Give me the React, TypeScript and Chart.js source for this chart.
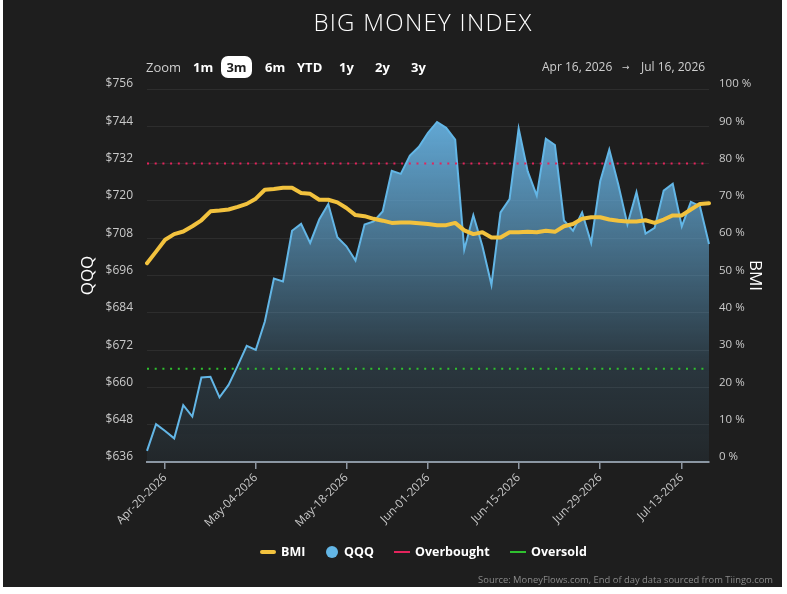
import React, { useEffect, useRef } from "react";
import { Chart, registerables } from "chart.js";

Chart.register(...registerables);

// Trading days shown on the category axis
const tradingDays = [
  "Apr-16-2026", "Apr-17-2026", "Apr-20-2026", "Apr-21-2026", "Apr-22-2026", "Apr-23-2026", "Apr-24-2026",
  "Apr-27-2026", "Apr-28-2026", "Apr-29-2026", "Apr-30-2026", "May-01-2026",
  "May-04-2026", "May-05-2026", "May-06-2026", "May-07-2026", "May-08-2026",
  "May-11-2026", "May-12-2026", "May-13-2026", "May-14-2026", "May-15-2026",
  "May-18-2026", "May-19-2026", "May-20-2026", "May-21-2026", "May-22-2026",
  "May-26-2026", "May-27-2026", "May-28-2026", "May-29-2026",
  "Jun-01-2026", "Jun-02-2026", "Jun-03-2026", "Jun-04-2026", "Jun-05-2026",
  "Jun-08-2026", "Jun-09-2026", "Jun-10-2026", "Jun-11-2026", "Jun-12-2026",
  "Jun-15-2026", "Jun-16-2026", "Jun-17-2026", "Jun-18-2026",
  "Jun-22-2026", "Jun-23-2026", "Jun-24-2026", "Jun-25-2026", "Jun-26-2026",
  "Jun-29-2026", "Jun-30-2026", "Jul-01-2026", "Jul-02-2026",
  "Jul-06-2026", "Jul-07-2026", "Jul-08-2026", "Jul-09-2026", "Jul-10-2026",
  "Jul-13-2026", "Jul-14-2026", "Jul-15-2026", "Jul-16-2026",
];

// QQQ daily close ($)
const qqqClose = [
  639.6, 648.2, 646.0, 643.6, 654.3, 650.6, 663.2, 663.4, 656.8, 660.8,
  666.9, 673.4, 672.1, 681.2, 695.0, 694.1, 710.4, 712.6, 706.5, 714.0,
  719.0, 708.3, 705.4, 700.8, 712.4, 713.4, 716.6, 729.7, 728.7, 734.6,
  737.4, 741.9, 745.4, 743.5, 739.7, 704.3, 715.4, 705.5, 693.0, 716.3,
  720.6, 743.3, 729.5, 721.7, 740.0, 738.0, 713.7, 710.4, 716.3, 706.5,
  726.3, 736.5, 725.2, 712.4, 722.8, 709.5, 711.3, 723.3, 725.5, 711.8,
  719.7, 718.3, 706.1,
];

// Big Money Index (%)
const bmiPct = [
  53.3, 56.4, 59.6, 61.1, 61.8, 63.2, 64.8, 67.2, 67.4, 67.7,
  68.4, 69.2, 70.6, 73.0, 73.2, 73.5, 73.5, 72.1, 71.9, 70.3,
  70.3, 69.6, 68.1, 66.2, 65.9, 65.2, 64.7, 64.1, 64.2, 64.2,
  64.0, 63.8, 63.5, 63.5, 64.1, 62.1, 61.1, 61.6, 60.2, 60.2,
  61.6, 61.6, 61.7, 61.6, 62.0, 61.7, 63.2, 63.8, 65.2, 65.6,
  65.6, 65.0, 64.7, 64.5, 64.5, 64.8, 64.1, 65.0, 66.1, 66.1,
  67.7, 69.2, 69.4,
];

const overboughtLevel = 80;
const oversoldLevel = 25;

const labelledDays = [
  "Apr-20-2026", "May-04-2026", "May-18-2026", "Jun-01-2026",
  "Jun-15-2026", "Jun-29-2026", "Jul-13-2026",
];

const priceMin = 636;
const priceMax = 756;
const priceStep = 12;
const pctMin = 0;
const pctMax = 100;
const pctStep = 10;

const zoomButtons = ["1m", "3m", "6m", "YTD", "1y", "2y", "3y"];
const rangeFrom = "Apr 16, 2026";
const rangeTo = "Jul 16, 2026";

const FONT = '"Open Sans", "DejaVu Sans", sans-serif';
const BMI_COLOR = "#f2c23e";
const QQQ_COLOR = "#63b6e6";
const OB_COLOR = "#e3245c";
const OS_COLOR = "#2fc02f";
const TICK_COLOR = "#cacaca";

function qqqFill(ctx: any) {
  const chart = ctx.chart;
  const area = chart.chartArea;
  if (!area) return "rgba(99,170,215,0.4)";
  const g = chart.ctx.createLinearGradient(0, area.top, 0, area.bottom);
  g.addColorStop(0, "rgba(100,172,218,1)");
  g.addColorStop(0.12, "rgba(100,172,218,0.93)");
  g.addColorStop(0.5, "rgba(100,172,218,0.47)");
  g.addColorStop(0.75, "rgba(100,172,218,0.17)");
  g.addColorStop(1, "rgba(100,172,218,0.07)");
  return g;
}

const zoomX: Record<string, number> = { "1m": 193, "3m": 226, "6m": 265, YTD: 297, "1y": 339, "2y": 375, "3y": 411 };

export default function App() {
  const canvasRef = useRef<HTMLCanvasElement>(null);

  useEffect(() => {
    const canvas = canvasRef.current;
    if (!canvas) return;
    const chart = new Chart(canvas, {
      type: "line",
      data: {
        labels: tradingDays,
        datasets: [
          {
            label: "BMI",
            data: bmiPct,
            yAxisID: "yBmi",
            borderColor: BMI_COLOR,
            borderWidth: 4,
            pointRadius: 0,
            tension: 0,
            borderJoinStyle: "round",
            borderCapStyle: "round",
            fill: false,
            order: 1,
          },
          {
            label: "Overbought",
            data: tradingDays.map(() => overboughtLevel),
            yAxisID: "yBmi",
            borderColor: OB_COLOR,
            borderWidth: 2,
            borderDash: [2, 5.7],
            pointRadius: 0,
            fill: false,
            order: 2,
          },
          {
            label: "Oversold",
            data: tradingDays.map(() => oversoldLevel),
            yAxisID: "yBmi",
            borderColor: OS_COLOR,
            borderWidth: 2,
            borderDash: [2, 5.7],
            pointRadius: 0,
            fill: false,
            order: 2,
          },
          {
            label: "QQQ",
            data: qqqClose,
            yAxisID: "yPrice",
            borderColor: QQQ_COLOR,
            borderWidth: 2,
            pointRadius: 0,
            tension: 0,
            fill: "start",
            backgroundColor: qqqFill,
            order: 3,
          },
        ],
      },
      options: {
        responsive: false,
        devicePixelRatio: 1,
        animation: false,
        layout: { padding: { top: 89, left: 0, right: 0, bottom: 0 } },
        plugins: {
          legend: { display: false },
          tooltip: { enabled: false },
          title: { display: false },
        },
        scales: {
          x: {
            type: "category",
            offset: false,
            grid: {
              display: true,
              drawOnChartArea: false,
              drawTicks: true,
              tickLength: 7,
              color: "#8d96a1",
              lineWidth: 1.5,
            },
            border: { display: true, color: "#8d96a1", width: 2 },
            ticks: {
              autoSkip: false,
              minRotation: 45,
              maxRotation: 45,
              padding: 2,
              color: TICK_COLOR,
              font: { family: FONT, size: 11.5 },
            },
            afterBuildTicks: (scale: any) => {
              scale.ticks = labelledDays.map((d) => ({ value: tradingDays.indexOf(d) }));
            },
            afterFit: (scale: any) => {
              scale.height = 132;
            },
          },
          yPrice: {
            type: "linear",
            position: "left",
            min: priceMin,
            max: priceMax,
            grid: { color: "#2d2d2d", lineWidth: 1, drawTicks: false },
            border: { display: false },
            ticks: {
              stepSize: priceStep,
              padding: 14,
              labelOffset: -5,
              color: TICK_COLOR,
              font: { family: FONT, size: 12 },
              callback: (v: any) => "$" + v,
            },
            title: {
              display: true,
              text: "QQQ",
              color: "#ffffff",
              font: { family: FONT, size: 17 },
              padding: { top: 78, bottom: 0 },
            },
            afterFit: (scale: any) => {
              scale.width = 147;
            },
          },
          yBmi: {
            type: "linear",
            position: "right",
            min: pctMin,
            max: pctMax,
            grid: { display: false },
            border: { display: false },
            ticks: {
              stepSize: pctStep,
              padding: 2,
              labelOffset: -5,
              color: TICK_COLOR,
              font: { family: FONT, size: 11.5 },
              callback: (v: any) => v + " %",
            },
            title: {
              display: true,
              text: "BMI",
              color: "#ffffff",
              font: { family: FONT, size: 17 },
              padding: { top: 22, bottom: 0 },
            },
            afterFit: (scale: any) => {
              scale.width = 78;
            },
          },
        },
      },
    } as any);
    return () => chart.destroy();
  }, []);

  const txt = (extra: React.CSSProperties): React.CSSProperties => ({
    position: "absolute",
    fontFamily: FONT,
    whiteSpace: "nowrap",
    ...extra,
  });

  return (
    <div style={{ position: "absolute", left: 0, top: 0, width: 787, height: 594, background: "#ffffff", overflow: "hidden" }}>
      <div style={{ position: "absolute", left: 3, top: 0, width: 779, height: 587, background: "#1e1e1e" }} />
      <canvas ref={canvasRef} width={787} height={594} style={{ position: "absolute", left: 0, top: 0, width: 787, height: 594 }} />

      <div style={txt({ left: 423, top: 6, height: 32, lineHeight: "32px", transform: "translateX(-50%)", color: "#ffffff", fontSize: 24, fontWeight: 300, letterSpacing: 1.3 })}>
        BIG MONEY INDEX
      </div>

      <div style={txt({ left: 146, top: 57, lineHeight: "20px", color: "#cfcfcf", fontSize: 13 })}>Zoom</div>
      <div style={{ position: "absolute", left: 221, top: 56, width: 31, height: 22, borderRadius: 7, background: "#ffffff" }} />
      {zoomButtons.map((b) => (
        <div
          key={b}
          style={txt({
            left: b === "3m" ? 221 : zoomX[b],
            width: b === "3m" ? 31 : undefined,
            textAlign: b === "3m" ? "center" : undefined,
            top: 57,
            lineHeight: "20px",
            color: b === "3m" ? "#1e1e1e" : "#ffffff",
            fontSize: 13,
            fontWeight: 700,
          })}
        >
          {b}
        </div>
      ))}
      <div style={txt({ left: 542, top: 57, lineHeight: "20px", color: "#cfcfcf", fontSize: 12 })}>{rangeFrom}</div>
      <div style={txt({ left: 622, top: 57, lineHeight: "20px", color: "#cfcfcf", fontSize: 9 })}>→</div>
      <div style={txt({ left: 641, top: 57, lineHeight: "20px", color: "#cfcfcf", fontSize: 12 })}>{rangeTo}</div>

      {/* legend */}
      <div style={{ position: "absolute", left: 260, top: 550, width: 16, height: 4, borderRadius: 2, background: BMI_COLOR }} />
      <div style={txt({ left: 281, top: 542, lineHeight: "20px", color: "#ffffff", fontSize: 12.5, fontWeight: 700 })}>BMI</div>
      <div style={{ position: "absolute", left: 326, top: 546, width: 12, height: 12, borderRadius: 6, background: QQQ_COLOR }} />
      <div style={txt({ left: 344, top: 542, lineHeight: "20px", color: "#ffffff", fontSize: 12.5, fontWeight: 700 })}>QQQ</div>
      <div style={{ position: "absolute", left: 394, top: 551, width: 16, height: 2, background: OB_COLOR }} />
      <div style={txt({ left: 415, top: 542, lineHeight: "20px", color: "#ffffff", fontSize: 12.5, fontWeight: 700 })}>Overbought</div>
      <div style={{ position: "absolute", left: 510, top: 551, width: 16, height: 2, background: OS_COLOR }} />
      <div style={txt({ left: 531, top: 542, lineHeight: "20px", color: "#ffffff", fontSize: 12.5, fontWeight: 700 })}>Oversold</div>

      <div style={txt({ right: 14, top: 572, lineHeight: "16px", color: "#8a8a8a", fontSize: 9.4 })}>
        Source: MoneyFlows.com, End of day data sourced from Tiingo.com
      </div>
    </div>
  );
}
